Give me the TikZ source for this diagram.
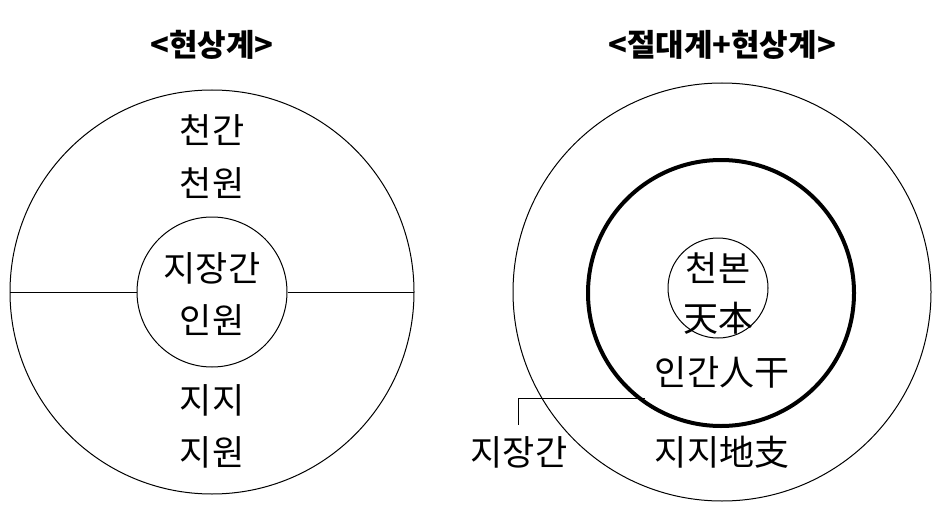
\documentclass[tikz,border=0pt]{standalone}
\usepackage{fontspec}
\newfontfamily\kr{Noto Sans CJK KR}
\begin{document}
\begin{tikzpicture}[x=1pt,y=-1pt,
  txt/.style={font=\kr\fontsize{35}{38}\selectfont,inner sep=0pt},
  ttl/.style={font=\kr\bfseries\fontsize{31}{34}\selectfont,inner sep=0pt},
  thin/.style={line width=1pt},
  thick2/.style={line width=4pt}]
\useasboundingbox (0,0) rectangle (936,508);
% left
\node[ttl] (t1) at (212,45) {<현상계>};
\draw[thin] (212,292) circle (202);
\node[circle,thin,draw,minimum size=150pt,inner sep=0pt] (c1) at (212,292) {};
\coordinate (l1) at (10,292); \coordinate (r1) at (414,292);
\draw[thin] (l1) -- (c1.west); \draw[thin] (c1.east) -- (r1);
\node[txt] (a1) at (212,130) {천간};
\node[txt] (a2) at (212,183) {천원};
\node[txt] (a3) at (212,268) {지장간};
\node[txt] (a4) at (212,320) {인원};
\node[txt] (a5) at (212,400) {지지};
\node[txt] (a6) at (212,452) {지원};
% right
\node[ttl] (t2) at (722,45) {<절대계+현상계>};
\draw[thin] (722,292) circle (209);
\draw[thick2] (721,293) circle (133);
\draw[thin] (718,288) circle (50);
\node[txt] (b1) at (718,268) {천본};
\node[txt] (b2) at (718,318) {天本};
\node[txt] (b3) at (722,372) {인간人干};
\node[txt] (b4) at (722,452) {지지地支};
\node[txt] (b5) at (519,452) {지장간};
\coordinate (p) at (645,398);
\draw[thin] (p) -- (518,398) -- (518,425);
\end{tikzpicture}
\end{document}
